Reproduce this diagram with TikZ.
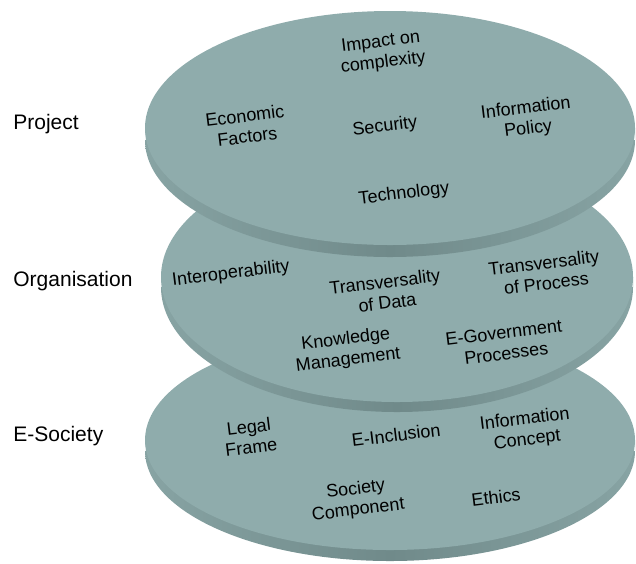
\documentclass[tikz,border=0pt]{standalone}
\usepackage{fontspec}
\setmainfont{Liberation Sans}
\usetikzlibrary{positioning}
\definecolor{discface}{RGB}{143,172,172}
\definecolor{discside}{RGB}{112,138,138}

\begin{document}
\begin{tikzpicture}[x=0.5pt, y=-0.5pt,
    item/.style={rotate=7, align=center, inner sep=0pt, font=\fontsize{9}{10.4}\selectfont},
    level/.style={anchor=west, inner sep=0pt, font=\fontsize{10.5}{12}\selectfont},
    side/.style={left color=discside!25!discface, right color=discside!25!discface, middle color=discside}]
        \useasboundingbox (0,0) rectangle (636,563);

        % E-Society disc
        \shade[side] (145,440) rectangle (635,451) (390,451) ellipse [x radius=245, y radius=110];
        \fill[discface] (390,440) ellipse [x radius=245, y radius=110];
        % Organisation disc
        \shade[side] (161,277) rectangle (633,287) (397,287) ellipse [x radius=236, y radius=125];
        \fill[discface] (397,277) ellipse [x radius=236, y radius=125];
        % Project disc
        \shade[side] (145,128) rectangle (635,140) (390,140) ellipse [x radius=245, y radius=117];
        \fill[discface] (390,128) ellipse [x radius=245, y radius=117];

        \node[level] (L1) at (13,124) {Project};
        \node[level] (L2) at (13,281) {Organisation};
        \node[level] (L3) at (13,436) {E-Society};

        \node[item] (P1) at (382,53)  {Impact on\\complexity};
        \node[item] (P2) at (246,126) {Economic\\Factors};
        \node[item] (P3) at (385,127) {Security};
        \node[item] (P4) at (527,119) {Information\\Policy};
        \node[item] (P5) at (404,194) {Technology};

        \node[item] (O1) at (231,274) {Interoperability};
        \node[item] (O2) at (386,292) {Transversality\\of Data};
        \node[item] (O3) at (545,273) {Transversality\\of Process};
        \node[item] (O4) at (347,350) {Knowledge\\Management};
        \node[item] (O5) at (505,343) {E-Government\\Processes};

        \node[item] (S1) at (250,437) {Legal\\Frame};
        \node[item] (S2) at (396,435) {E-Inclusion};
        \node[item] (S3) at (526,430) {Information\\Concept};
        \node[item] (S4) at (357,500) {Society\\Component};
        \node[item] (S5) at (496,497) {Ethics};
\end{tikzpicture}
\end{document}
